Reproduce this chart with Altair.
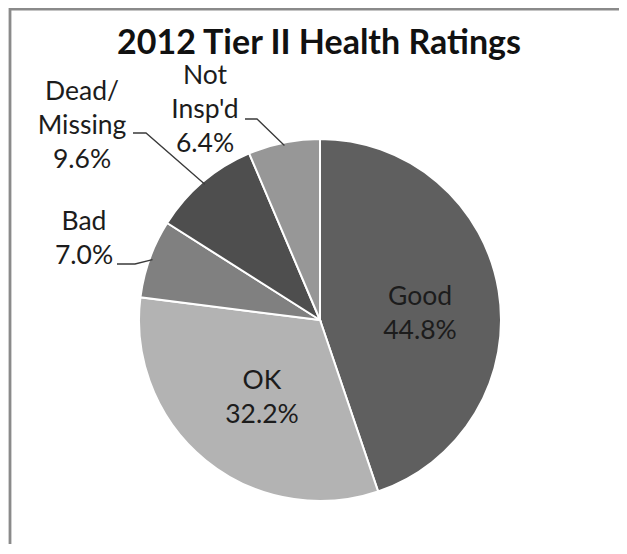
import altair as alt
import pandas as pd
import numpy as np

# ---- data ----
categories = ["Good", "OK", "Bad", "Dead/Missing", "Not Insp'd"]
label_names = ["Good", "OK", "Bad", "Dead/\nMissing", "Not\nInsp'd"]
shares = [44.8, 32.2, 7.0, 9.6, 6.4]
title_text = "2012 Tier II Health Ratings"

# ---- styles / layout ----
colors = ["#5f5f5f", "#b3b3b3", "#808080", "#4e4e4e", "#979797"]
W, H = 611, 536
CX, CY = 312, 312
R = 181
# label anchor (center x, first-line baseline) in view pixels
label_x = [412, 254, 76, 74, 197]
label_y = [297, 381, 222, 92, 76]
# leader lines for outside labels: start x, elbow x, y
leaders = {2: (109, 127, 256), 3: (125, 138, 125), 4: (237, 249, 111)}

df = pd.DataFrame({"cat": categories, "share": shares, "order": list(range(len(shares)))})

pie = alt.Chart(df).mark_arc(outerRadius=R, stroke="white", strokeWidth=2).encode(
    theta=alt.Theta("share:Q", stack=True),
    order=alt.Order("order:Q"),
    color=alt.Color("cat:N", scale=alt.Scale(domain=categories, range=colors), legend=None),
    x=alt.value(CX),
    y=alt.value(CY),
)

lab_df = pd.DataFrame({
    "text": [f"{n}\n{v:.1f}%" for n, v in zip(label_names, shares)],
    "x": label_x,
    "y": label_y,
})
labels = alt.Chart(lab_df).mark_text(
    font="Lato", fontSize=26.5, lineBreak="\n", lineHeight=34,
    align="center", baseline="alphabetic", color="#1c1c1c",
).encode(
    x=alt.X("x:Q", scale=None), y=alt.Y("y:Q", scale=None), text="text:N"
)

cum = np.cumsum([0] + shares)
mid = (cum[:-1] + cum[1:]) / 2 / 100 * 2 * np.pi
rows = []
for i, (x0, x1, yy) in leaders.items():
    ex = CX + (R - 3) * np.sin(mid[i])
    ey = CY - (R - 3) * np.cos(mid[i])
    rows += [
        {"lab": categories[i], "k": 0, "x": x0, "y": yy},
        {"lab": categories[i], "k": 1, "x": x1, "y": yy},
        {"lab": categories[i], "k": 2, "x": float(ex), "y": float(ey)},
    ]
lead_df = pd.DataFrame(rows)
lines = alt.Chart(lead_df).mark_line(color="#3a3a3a", strokeWidth=1.3).encode(
    x=alt.X("x:Q", scale=None), y=alt.Y("y:Q", scale=None),
    detail="lab:N", order="k:Q",
)

title = alt.Chart(pd.DataFrame({"t": [title_text]})).mark_text(
    font="Lato", fontSize=34, fontWeight="bold", align="center",
    baseline="alphabetic", color="#111111",
).encode(text="t:N", x=alt.value(311), y=alt.value(46))

# chart frame (left and top edges only visible)
frame_df = pd.DataFrame({"k": [0, 1, 2], "x": [2, 2, W + 20], "y": [H + 20, 1.2, 1.2]})
frame = alt.Chart(frame_df).mark_line(color="#8a8a8a", strokeWidth=2.8).encode(
    x=alt.X("x:Q", scale=None), y=alt.Y("y:Q", scale=None), order="k:Q"
)

chart = alt.layer(frame, pie, lines, labels, title).properties(
    width=W, height=H, padding=0, autosize="none"
).configure_view(strokeWidth=0, stroke="transparent")

chart.save("out.html", embed_options={"renderer": "svg", "actions": False})
